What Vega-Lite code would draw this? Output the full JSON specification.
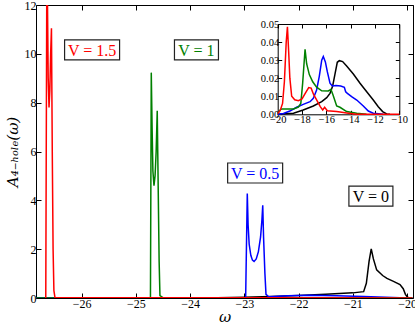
{
  "$schema": "https://vega.github.io/schema/vega-lite/v6.json",
  "autosize": {"type": "none"},
  "width": 377,
  "height": 293,
  "padding": {"left": 36, "top": 5, "right": 2, "bottom": 31},
  "background": "white",
  "config": {
    "view": {"stroke": null},
    "axis": {
      "grid": false,
      "labelFont": "Liberation Serif",
      "labelFontSize": 12,
      "labelColor": "black",
      "labelOverlap": false,
      "labelFlush": false,
      "tickColor": "black",
      "domainColor": "black",
      "tickWidth": 1,
      "domainWidth": 1,
      "titleFont": "Liberation Serif",
      "titleFontWeight": "normal",
      "titleColor": "black"
    }
  },
  "datasets": {
    "main": [
      {"V": "0", "w": -26.84, "A": 0},
      {"V": "0", "w": -24.1, "A": 0},
      {"V": "0", "w": -23.5, "A": 0.01},
      {"V": "0", "w": -23.0, "A": 0.03},
      {"V": "0", "w": -22.5, "A": 0.06},
      {"V": "0", "w": -22.0, "A": 0.1},
      {"V": "0", "w": -21.5, "A": 0.15},
      {"V": "0", "w": -21.0, "A": 0.21},
      {"V": "0", "w": -20.8, "A": 0.26},
      {"V": "0", "w": -20.75, "A": 0.6},
      {"V": "0", "w": -20.7, "A": 1.5},
      {"V": "0", "w": -20.66, "A": 2.01},
      {"V": "0", "w": -20.62, "A": 1.6},
      {"V": "0", "w": -20.56, "A": 1.15},
      {"V": "0", "w": -20.45, "A": 0.92},
      {"V": "0", "w": -20.37, "A": 0.8},
      {"V": "0", "w": -20.25, "A": 0.68},
      {"V": "0", "w": -20.13, "A": 0.55},
      {"V": "0", "w": -20.07, "A": 0.38},
      {"V": "0", "w": -20.03, "A": 0.15},
      {"V": "0", "w": -19.99, "A": 0.03},
      {"V": "0", "w": -19.95, "A": 0},
      {"V": "0.5", "w": -26.84, "A": 0},
      {"V": "0.5", "w": -22.975, "A": 0},
      {"V": "0.5", "w": -22.945, "A": 4.28},
      {"V": "0.5", "w": -22.93, "A": 3.0},
      {"V": "0.5", "w": -22.91, "A": 2.2},
      {"V": "0.5", "w": -22.88, "A": 1.75},
      {"V": "0.5", "w": -22.85, "A": 1.55},
      {"V": "0.5", "w": -22.82, "A": 1.5},
      {"V": "0.5", "w": -22.78, "A": 1.6},
      {"V": "0.5", "w": -22.74, "A": 1.9},
      {"V": "0.5", "w": -22.7, "A": 2.5},
      {"V": "0.5", "w": -22.675, "A": 3.2},
      {"V": "0.5", "w": -22.66, "A": 3.8},
      {"V": "0.5", "w": -22.645, "A": 2.5},
      {"V": "0.5", "w": -22.62, "A": 1.0},
      {"V": "0.5", "w": -22.6, "A": 0.15},
      {"V": "0.5", "w": -22.55, "A": 0.05},
      {"V": "0.5", "w": -22.2, "A": 0.09},
      {"V": "0.5", "w": -21.8, "A": 0.11},
      {"V": "0.5", "w": -21.3, "A": 0.09},
      {"V": "0.5", "w": -20.8, "A": 0.06},
      {"V": "0.5", "w": -20.4, "A": 0.03},
      {"V": "0.5", "w": -20.0, "A": 0.005},
      {"V": "0.5", "w": -19.9, "A": 0},
      {"V": "1", "w": -26.84, "A": 0},
      {"V": "1", "w": -24.73, "A": 0},
      {"V": "1", "w": -24.715, "A": 9.23},
      {"V": "1", "w": -24.7, "A": 7.0},
      {"V": "1", "w": -24.685, "A": 5.2},
      {"V": "1", "w": -24.665, "A": 4.6},
      {"V": "1", "w": -24.645, "A": 5.0},
      {"V": "1", "w": -24.625, "A": 6.0},
      {"V": "1", "w": -24.605, "A": 7.67},
      {"V": "1", "w": -24.59, "A": 5.0},
      {"V": "1", "w": -24.57, "A": 1.5},
      {"V": "1", "w": -24.555, "A": 0.1},
      {"V": "1", "w": -24.5, "A": 0.02},
      {"V": "1", "w": -22.0, "A": 0.01},
      {"V": "1", "w": -19.9, "A": 0},
      {"V": "1.5", "w": -26.66, "A": 0},
      {"V": "1.5", "w": -26.64, "A": 13.5},
      {"V": "1.5", "w": -26.63, "A": 12.5},
      {"V": "1.5", "w": -26.615, "A": 9.0},
      {"V": "1.5", "w": -26.6, "A": 7.8},
      {"V": "1.5", "w": -26.585, "A": 8.5},
      {"V": "1.5", "w": -26.57, "A": 10.0},
      {"V": "1.5", "w": -26.555, "A": 11.05},
      {"V": "1.5", "w": -26.54, "A": 6.0},
      {"V": "1.5", "w": -26.525, "A": 2.0},
      {"V": "1.5", "w": -26.51, "A": 0.3},
      {"V": "1.5", "w": -26.49, "A": 0.02},
      {"V": "1.5", "w": -25.0, "A": 0.01},
      {"V": "1.5", "w": -22.6, "A": 0.01},
      {"V": "1.5", "w": -20.0, "A": 0.005},
      {"V": "1.5", "w": -19.9, "A": 0}
    ],
    "inset": [
      {"V": "0", "wi": -20.0, "Ai": 0},
      {"V": "0", "wi": -18.7, "Ai": 0.0006},
      {"V": "0", "wi": -17.9, "Ai": 0.0024},
      {"V": "0", "wi": -17.07, "Ai": 0.0046},
      {"V": "0", "wi": -16.38, "Ai": 0.007},
      {"V": "0", "wi": -15.97, "Ai": 0.0092},
      {"V": "0", "wi": -15.7, "Ai": 0.0116},
      {"V": "0", "wi": -15.48, "Ai": 0.0157},
      {"V": "0", "wi": -15.29, "Ai": 0.0223},
      {"V": "0", "wi": -15.1, "Ai": 0.0288},
      {"V": "0", "wi": -14.93, "Ai": 0.0297},
      {"V": "0", "wi": -14.66, "Ai": 0.0292},
      {"V": "0", "wi": -14.33, "Ai": 0.0268},
      {"V": "0", "wi": -13.78, "Ai": 0.0223},
      {"V": "0", "wi": -13.23, "Ai": 0.0172},
      {"V": "0", "wi": -12.68, "Ai": 0.0125},
      {"V": "0", "wi": -12.14, "Ai": 0.0079},
      {"V": "0", "wi": -11.73, "Ai": 0.0042},
      {"V": "0", "wi": -11.37, "Ai": 0.0015},
      {"V": "0", "wi": -11.04, "Ai": 0.0002},
      {"V": "0", "wi": -10.77, "Ai": 0},
      {"V": "0.5", "wi": -20.0, "Ai": 0},
      {"V": "0.5", "wi": -19.53, "Ai": 0.0005},
      {"V": "0.5", "wi": -19.0, "Ai": 0.0018},
      {"V": "0.5", "wi": -18.44, "Ai": 0.0039},
      {"V": "0.5", "wi": -17.9, "Ai": 0.0055},
      {"V": "0.5", "wi": -17.34, "Ai": 0.007},
      {"V": "0.5", "wi": -17.07, "Ai": 0.0089},
      {"V": "0.5", "wi": -16.8, "Ai": 0.0135},
      {"V": "0.5", "wi": -16.58, "Ai": 0.021},
      {"V": "0.5", "wi": -16.38, "Ai": 0.03},
      {"V": "0.5", "wi": -16.25, "Ai": 0.032},
      {"V": "0.5", "wi": -16.08, "Ai": 0.029},
      {"V": "0.5", "wi": -15.92, "Ai": 0.0236},
      {"V": "0.5", "wi": -15.7, "Ai": 0.0172},
      {"V": "0.5", "wi": -15.51, "Ai": 0.0157},
      {"V": "0.5", "wi": -15.21, "Ai": 0.016},
      {"V": "0.5", "wi": -14.82, "Ai": 0.0157},
      {"V": "0.5", "wi": -14.52, "Ai": 0.0149},
      {"V": "0.5", "wi": -14.41, "Ai": 0.0125},
      {"V": "0.5", "wi": -14.27, "Ai": 0.0116},
      {"V": "0.5", "wi": -13.92, "Ai": 0.0098},
      {"V": "0.5", "wi": -13.5, "Ai": 0.0079},
      {"V": "0.5", "wi": -12.96, "Ai": 0.0046},
      {"V": "0.5", "wi": -12.55, "Ai": 0.0018},
      {"V": "0.5", "wi": -12.14, "Ai": 0.0006},
      {"V": "0.5", "wi": -11.3, "Ai": 0},
      {"V": "1", "wi": -20.0, "Ai": 0.0005},
      {"V": "1", "wi": -19.8, "Ai": 0.0024},
      {"V": "1", "wi": -19.67, "Ai": 0.003},
      {"V": "1", "wi": -18.7, "Ai": 0.003},
      {"V": "1", "wi": -18.3, "Ai": 0.004},
      {"V": "1", "wi": -18.1, "Ai": 0.006},
      {"V": "1", "wi": -17.95, "Ai": 0.017},
      {"V": "1", "wi": -17.75, "Ai": 0.036},
      {"V": "1", "wi": -17.62, "Ai": 0.028},
      {"V": "1", "wi": -17.4, "Ai": 0.022},
      {"V": "1", "wi": -17.12, "Ai": 0.018},
      {"V": "1", "wi": -16.8, "Ai": 0.015},
      {"V": "1", "wi": -16.38, "Ai": 0.013},
      {"V": "1", "wi": -15.84, "Ai": 0.0129},
      {"V": "1", "wi": -15.62, "Ai": 0.0138},
      {"V": "1", "wi": -15.45, "Ai": 0.0107},
      {"V": "1", "wi": -15.15, "Ai": 0.0046},
      {"V": "1", "wi": -14.88, "Ai": 0.0039},
      {"V": "1", "wi": -14.33, "Ai": 0.0015},
      {"V": "1", "wi": -13.5, "Ai": 0.0006},
      {"V": "1", "wi": -12.7, "Ai": 0},
      {"V": "1.5", "wi": -20.0, "Ai": 0.0005},
      {"V": "1.5", "wi": -19.8, "Ai": 0.002},
      {"V": "1.5", "wi": -19.6, "Ai": 0.006},
      {"V": "1.5", "wi": -19.45, "Ai": 0.018},
      {"V": "1.5", "wi": -19.3, "Ai": 0.04},
      {"V": "1.5", "wi": -19.2, "Ai": 0.0485},
      {"V": "1.5", "wi": -19.1, "Ai": 0.035},
      {"V": "1.5", "wi": -19.0, "Ai": 0.02},
      {"V": "1.5", "wi": -18.85, "Ai": 0.01},
      {"V": "1.5", "wi": -18.6, "Ai": 0.008},
      {"V": "1.5", "wi": -18.3, "Ai": 0.0075},
      {"V": "1.5", "wi": -18.0, "Ai": 0.0085},
      {"V": "1.5", "wi": -17.7, "Ai": 0.012},
      {"V": "1.5", "wi": -17.45, "Ai": 0.0148},
      {"V": "1.5", "wi": -17.25, "Ai": 0.0145},
      {"V": "1.5", "wi": -17.05, "Ai": 0.011},
      {"V": "1.5", "wi": -16.8, "Ai": 0.008},
      {"V": "1.5", "wi": -16.5, "Ai": 0.0042},
      {"V": "1.5", "wi": -16.3, "Ai": 0.0024},
      {"V": "1.5", "wi": -16.14, "Ai": 0.0039},
      {"V": "1.5", "wi": -15.92, "Ai": 0.002},
      {"V": "1.5", "wi": -15.15, "Ai": 0.0015},
      {"V": "1.5", "wi": -14.05, "Ai": 0.0005},
      {"V": "1.5", "wi": -13.5, "Ai": 0},
      {"V": "1.5", "wi": -10.0, "Ai": 0}
    ],
    "labels": [
      {"V": "1.5", "label": "V = 1.5", "lx": -25.806, "ly": 10.16},
      {"V": "1", "label": "V = 1", "lx": -23.882, "ly": 10.16},
      {"V": "0.5", "label": "V = 0.5", "lx": -22.8, "ly": 5.12},
      {"V": "0", "label": "V = 0", "lx": -20.666, "ly": 4.17}
    ]
  },
  "resolve": {
    "scale": {"x": "independent", "y": "independent"},
    "axis": {"x": "independent", "y": "independent"}
  },
  "layer": [
    {
      "data": {"name": "main"},
      "mark": {"type": "line", "clip": true, "strokeWidth": 1.5},
      "encoding": {
        "x": {"field": "w", "type": "quantitative",
          "scale": {"domain": [-26.84, -19.89], "nice": false, "zero": false},
          "axis": {"orient": "bottom", "values": [-26, -25, -24, -23, -22, -21, -20], "format": "d",
            "tickSize": -5, "labelPadding": 5, "title": "ω", "titleFont": "DejaVu Serif", "titleFontSize": 15, "titleFontStyle": "italic", "titlePadding": 0}},
        "y": {"field": "A", "type": "quantitative",
          "scale": {"domain": [0, 12], "nice": false},
          "axis": {"orient": "left", "values": [0, 2, 4, 6, 8, 10, 12], "format": "d",
            "tickSize": -5, "labelPadding": 5, "title": "A₄₋ₕₒₗₑ(ω)", "titleFont": "DejaVu Serif", "titleFontSize": 15, "titleFontStyle": "italic", "titlePadding": 4}},
        "color": {"field": "V", "type": "nominal",
          "scale": {"domain": ["0", "0.5", "1", "1.5"], "range": ["#000000", "#0000ff", "#008000", "#ff0000"]},
          "legend": null}
      }
    },
    {
      "data": {"name": "main"},
      "mark": {"type": "line", "opacity": 0},
      "encoding": {
        "x": {"field": "w", "type": "quantitative",
          "scale": {"domain": [-26.84, -19.89], "nice": false, "zero": false},
          "axis": {"orient": "top", "values": [-26, -25, -24, -23, -22, -21, -20], "labels": false, "tickSize": -5, "title": null}},
        "y": {"field": "A", "type": "quantitative",
          "scale": {"domain": [0, 12], "nice": false},
          "axis": {"orient": "right", "values": [0, 2, 4, 6, 8, 10, 12], "labels": false, "tickSize": -5, "title": null}}
      }
    },
    {
      "data": {"name": "inset"},
      "mark": {"type": "line", "strokeWidth": 1.5},
      "encoding": {
        "x": {"field": "wi", "type": "quantitative",
          "scale": {"domain": [-20, -10], "range": [241.7, 363.3], "nice": false, "zero": false},
          "axis": {"orient": "bottom", "offset": -183.7, "values": [-20, -18, -16, -14, -12, -10], "format": "d",
            "tickSize": -4, "labelPadding": 4, "labelFontSize": 10.5, "title": null}},
        "y": {"field": "Ai", "type": "quantitative",
          "scale": {"domain": [0, 0.05], "range": [109.3, 19], "nice": false},
          "axis": {"orient": "left", "offset": -241.7, "values": [0, 0.01, 0.02, 0.03, 0.04, 0.05], "format": ".2f",
            "tickSize": -4, "labelPadding": 3, "labelFontSize": 10.5, "title": null}},
        "color": {"field": "V", "type": "nominal", "legend": null}
      }
    },
    {
      "data": {"name": "inset"},
      "mark": {"type": "line", "opacity": 0},
      "encoding": {
        "x": {"field": "wi", "type": "quantitative",
          "scale": {"domain": [-20, -10], "range": [241.7, 363.3], "nice": false, "zero": false},
          "axis": {"orient": "top", "offset": -19, "values": [-20, -18, -16, -14, -12, -10], "labels": false, "tickSize": -4, "title": null}},
        "y": {"field": "Ai", "type": "quantitative",
          "scale": {"domain": [0, 0.05], "range": [109.3, 19], "nice": false},
          "axis": {"orient": "right", "offset": -13.7, "values": [0, 0.01, 0.02, 0.03, 0.04, 0.05], "labels": false, "tickSize": -4, "title": null}}
      }
    },
    {
      "data": {"name": "labels"},
      "mark": {"type": "point", "filled": true, "fill": "white", "stroke": "#222222", "strokeWidth": 1.2, "opacity": 1, "size": 3025},
      "encoding": {
        "x": {"field": "lx", "type": "quantitative", "scale": {"domain": [-26.84, -19.89], "nice": false, "zero": false}, "axis": null},
        "y": {"field": "ly", "type": "quantitative", "scale": {"domain": [0, 12], "nice": false}, "axis": null},
        "shape": {"field": "label", "type": "nominal",
          "scale": {"domain": ["V = 1.5", "V = 1", "V = 0.5", "V = 0"],
            "range": ["M-1,-0.3636H1V0.3636H-1Z", "M-0.8,-0.3636H0.8V0.3636H-0.8Z", "M-1,-0.3636H1V0.3636H-1Z", "M-0.8,-0.3636H0.8V0.3636H-0.8Z"]},
          "legend": null}
      }
    },
    {
      "data": {"name": "labels"},
      "mark": {"type": "text", "font": "Liberation Serif", "fontSize": 16, "align": "center", "baseline": "middle", "dy": 1},
      "encoding": {
        "x": {"field": "lx", "type": "quantitative", "scale": {"domain": [-26.84, -19.89], "nice": false, "zero": false}, "axis": null},
        "y": {"field": "ly", "type": "quantitative", "scale": {"domain": [0, 12], "nice": false}, "axis": null},
        "text": {"field": "label"},
        "color": {"field": "V", "type": "nominal", "legend": null}
      }
    }
  ]
}
